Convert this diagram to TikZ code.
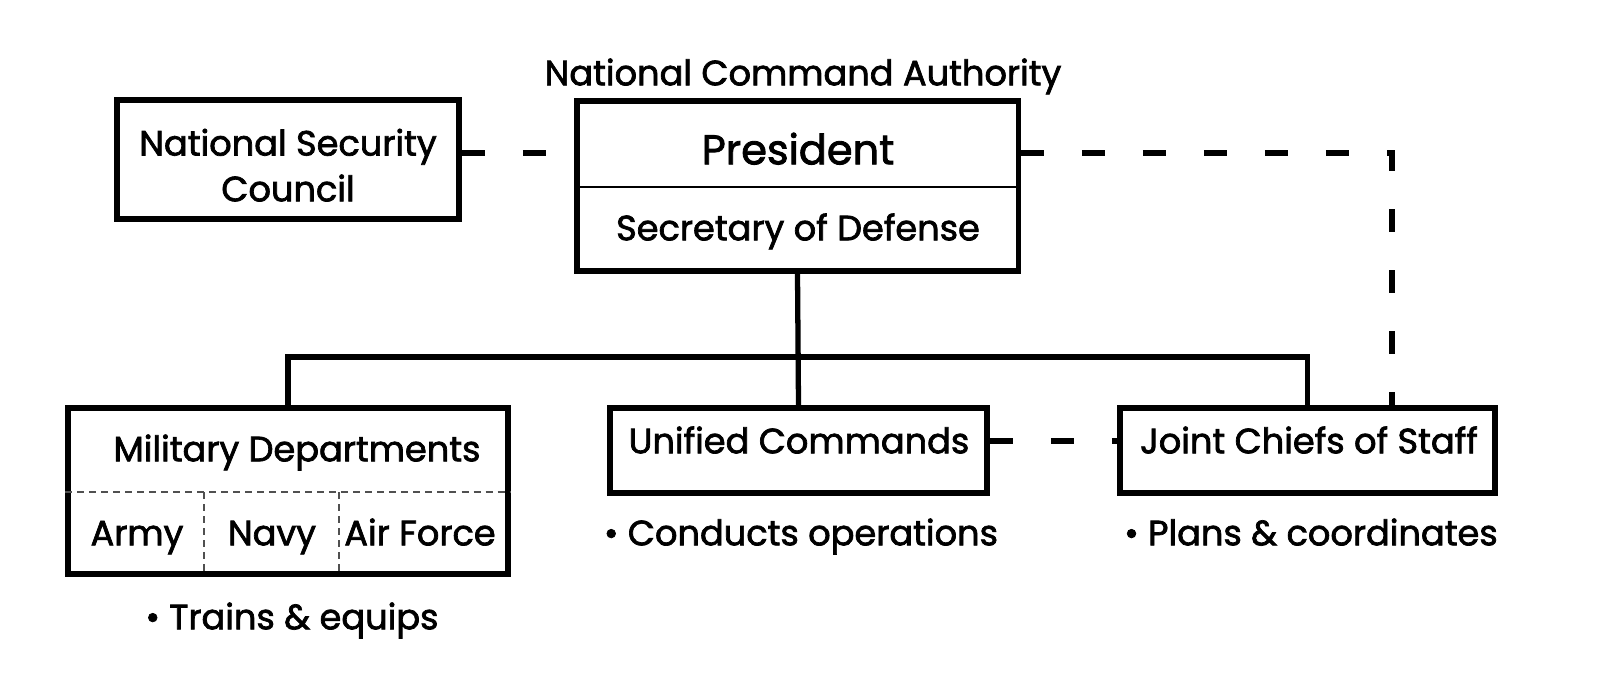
\documentclass[tikz,border=0pt]{standalone}
\usepackage{fontspec}
\setmainfont{Poppins}[FakeBold=2]
\usepackage{tikz}
\usetikzlibrary{positioning}
\usepackage{xcolor}
\definecolor{inkblack}{RGB}{0,0,0}
\definecolor{rulegray}{RGB}{80,80,80}
\tikzset{
  chart/.style={x=0.01cm,y=-0.01cm},
  office/.style={draw=inkblack,line width=1.5pt,inner sep=0pt},
  caption/.style={font=\fontsize{10}{13}\selectfont,align=center,inner sep=0pt,text height=0.7em,text depth=0pt},
  headline/.style={caption,font=\fontsize{11.8}{14}\selectfont},
  tie/.style={draw=inkblack,line width=1.5pt},
  liaison/.style={tie,dash pattern=on 0.23cm off 0.38cm},
  subdiv/.style={draw=rulegray,line width=0.4pt,dash pattern=on 0.07cm off 0.05cm},
}
\begin{document}
\begin{tikzpicture}[chart]
\useasboundingbox (0,0) rectangle (1600,679);
\node[office,minimum width=3.42cm,minimum height=1.19cm] (nsc) at (288,159.5) {};
\node[office,minimum width=4.41cm,minimum height=1.70cm] (pres) at (797.5,186) {};
\node[office,minimum width=4.40cm,minimum height=1.66cm] (mil) at (288,491) {};
\node[office,minimum width=3.77cm,minimum height=0.85cm] (unified) at (798.5,450.5) {};
\node[office,minimum width=3.75cm,minimum height=0.85cm] (jcs) at (1307.5,450.5) {};
\node[caption] (nca) at (803,73) {National Command Authority};
\node[headline] (prestitle) at (798,152) {President};
\node[caption] (secdef) at (798,228) {Secretary of Defense};
\node[caption] (nsctext) at (288,189) {National Security\\Council};
\node[caption] (milname) at (297,449) {Military Departments};
\node[caption] (army) at (137,533) {Army};
\node[caption] (navy) at (272,533) {Navy};
\node[caption] (airforce) at (420,533) {Air Force};
\node[caption] (unitext) at (799,441) {Unified Commands};
\node[caption] (jcstext) at (1309,441) {Joint Chiefs of Staff};
\node[caption] (trains) at (292,617) {\textbullet\ Trains \& equips};
\node[caption] (conducts) at (801,533) {\textbullet\ Conducts operations};
\node[caption] (plans) at (1311,533) {\textbullet\ Plans \& coordinates};
\draw[line width=0.5pt] (pres.west |- 0,187) -- (pres.east |- 0,187);
\draw[subdiv] (mil.west |- 0,492) -- (mil.east |- 0,492);
\foreach \x in {204,339} {\draw[subdiv] (\x,492) -- (\x,574);}
\draw[tie] (pres.south) -- (unified.north);
\coordinate (bus) at (pres.south |- 0,357);
\draw[tie] (mil.north) |- (bus) -| (jcs.north);
\coordinate (bend) at (1392,153);
\draw[liaison] (pres.east |- bend) -- (bend) -- (bend |- jcs.north);
\draw[liaison] (nsc.east |- bend) -- (pres.west |- bend);
\draw[liaison] (unified.east |- unitext) -- (jcs.west |- unitext);
\end{tikzpicture}
\end{document}
